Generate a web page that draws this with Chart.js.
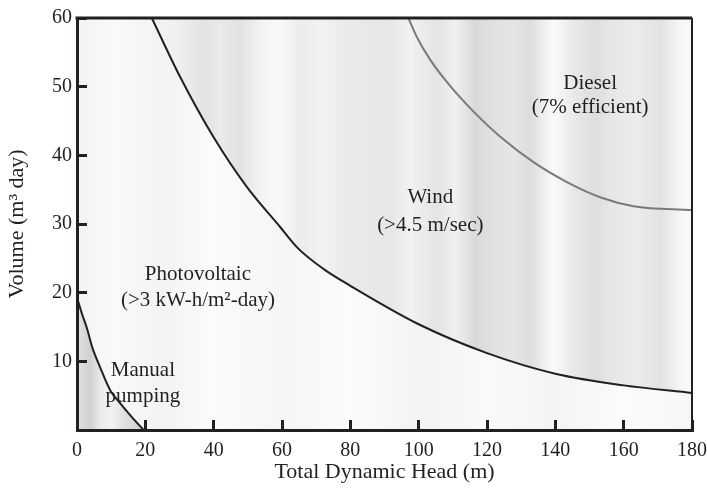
<!DOCTYPE html>
<html>
<head>
<meta charset="utf-8">
<script src="https://cdn.jsdelivr.net/npm/chart.js@4/dist/chart.umd.min.js"></script>
<style>
  html, body { margin: 0; padding: 0; background: #fff; }
  #wrap { width: 707px; height: 491px; }
</style>
</head>
<body>
<div id="wrap"><canvas id="pumpChart"></canvas></div>
<script>
// Boundary curves between pumping technologies (head in m, volume in m3/day)
const manualX = [0, 1.4, 2.8, 4.5, 6.7, 9.7, 12.6, 16, 19.5];
const manualY = [19.3, 17, 15, 12, 9.2, 5.8, 3.9, 1.9, 0];

const pvWindX = [21.9, 30.2, 39.9, 49.7, 59.4, 64.4, 72, 80, 100, 120, 140, 160, 180];
const pvWindY = [60, 51.4, 42.7, 35.4, 29.6, 26.6, 23.5, 21, 15.4, 11.2, 8.2, 6.5, 5.4];

const dieselX = [97, 99.5, 103.4, 109.2, 116, 123.9, 133.6, 143.4, 153.1, 162.9, 180];
const dieselY = [60, 57.2, 53.9, 50.1, 46.4, 42.7, 39, 36.1, 33.9, 32.6, 32];

const xTicks = [0, 20, 40, 60, 80, 100, 120, 140, 160, 180];
const yTicks = [10, 20, 30, 40, 50, 60];

// region names, placed at (head, volume)
const regionLabels = [
  { text: 'Photovoltaic', x: 35.4, y: 22.6 },
  { text: '(>3 kW-h/m\u00B2-day)', x: 35.4, y: 18.9 },
  { text: 'Wind', x: 103.4, y: 33.9 },
  { text: '(>4.5 m/sec)', x: 103.4, y: 29.8 },
  { text: 'Diesel', x: 150.2, y: 50.5 },
  { text: '(7% efficient)', x: 150.2, y: 47 },
  { text: 'Manual', x: 19.3, y: 8.7 },
  { text: 'pumping', x: 19.3, y: 4.85 }
];

const FONT = '"Liberation Serif", "DejaVu Serif", serif';
const INK = '#231f20';

// vertical shading bands: [head value, grey]
const bandsDark = [
  [0, '#f4f4f4'], [11.7, '#ebebeb'], [18.4, '#f6f6f6'], [28.7, '#f0f0f0'],
  [37.5, '#e3e3e3'], [41.9, '#eaeaea'], [47.7, '#e2e2e2'], [54, '#f3f3f3'],
  [58.9, '#fafafa'], [65.3, '#ececec'], [71.2, '#f2f2f2'], [80, '#eaeaea'],
  [91.7, '#e6e6e6'], [97.5, '#f2f2f2'], [105.4, '#e4e4e4'], [110.7, '#f0f0f0'],
  [116.5, '#d9d9d9'], [121, '#e0e0e0'], [128, '#e6e6e6'], [132.6, '#dddddd'],
  [139.4, '#fafafa'], [145.8, '#e8e8e8'], [151.7, '#dedede'], [156, '#e6e6e6'],
  [163.4, '#ececec'], [170.7, '#e2e2e2'], [176.6, '#f6f6f6'], [180, '#fafafa']
];
const bandsLight = [
  [0, '#f3f3f3'], [10, '#f9f9f9'], [25, '#f3f3f3'], [40, '#fbfbfb'],
  [60, '#f5f5f5'], [80, '#fbfbfb'], [100, '#f3f3f3'], [120, '#f9f9f9'],
  [140, '#f4f4f4'], [160, '#fbfbfb'], [180, '#f6f6f6']
];
const bandsManual = [
  [0, '#e4e4e4'], [2, '#d8d8d8'], [4, '#d0d0d0'], [7, '#ececec'],
  [10, '#f2f2f2'], [14, '#e0e0e0'], [18, '#d2d2d2'], [20, '#dcdcdc']
];

function points(xs, ys) {
  return xs.map((x, i) => ({ x: x, y: ys[i] }));
}

function bandGradient(chart, stops) {
  const area = chart.chartArea;
  const xs = chart.scales.x;
  const g = chart.ctx.createLinearGradient(area.left, 0, area.right, 0);
  stops.forEach(([v, c]) => {
    const f = (xs.getPixelForValue(v) - area.left) / area.width;
    g.addColorStop(Math.min(1, Math.max(0, f)), c);
  });
  return g;
}

function bands(stops) {
  return (context) => {
    const chart = context.chart;
    if (!chart.chartArea) return null;
    return bandGradient(chart, stops);
  };
}

// light banding behind everything (photovoltaic zone)
const backdrop = {
  id: 'backdrop',
  beforeDatasetsDraw(chart) {
    const { ctx, chartArea: a } = chart;
    ctx.save();
    ctx.fillStyle = bandGradient(chart, bandsLight);
    ctx.fillRect(a.left, a.top, a.width, a.height);
    ctx.restore();
  }
};

// frame on top and right, region names
const decorations = {
  id: 'decorations',
  afterDatasetsDraw(chart) {
    const { ctx, chartArea: a, scales } = chart;
    ctx.save();
    ctx.strokeStyle = INK;
    ctx.lineWidth = 3;
    ctx.beginPath();
    ctx.moveTo(a.left - 1.5, a.top);
    ctx.lineTo(a.right, a.top);
    ctx.stroke();
    ctx.lineWidth = 2;
    ctx.beginPath();
    ctx.moveTo(a.right, a.top);
    ctx.lineTo(a.right, a.bottom);
    ctx.stroke();

    ctx.fillStyle = INK;
    ctx.font = '21px ' + FONT;
    ctx.textAlign = 'center';
    ctx.textBaseline = 'middle';
    regionLabels.forEach(l => {
      ctx.fillText(l.text, scales.x.getPixelForValue(l.x), scales.y.getPixelForValue(l.y));
    });
    ctx.restore();
  }
};

new Chart(document.getElementById('pumpChart'), {
  type: 'line',
  data: {
    datasets: [
      {
        label: 'Manual',
        data: points(manualX, manualY),
        borderColor: INK,
        borderWidth: 2,
        backgroundColor: bands(bandsManual),
        fill: 'origin',
        cubicInterpolationMode: 'monotone',
        pointRadius: 0,
        order: 1
      },
      {
        label: 'Diesel',
        data: points(dieselX, dieselY),
        borderColor: '#7a7a7a',
        borderWidth: 2,
        backgroundColor: bands(bandsDark),
        fill: 'end',
        cubicInterpolationMode: 'monotone',
        pointRadius: 0,
        order: 2
      },
      {
        label: 'Wind',
        data: points(pvWindX, pvWindY),
        borderColor: INK,
        borderWidth: 2,
        backgroundColor: bands(bandsDark),
        fill: 'end',
        cubicInterpolationMode: 'monotone',
        pointRadius: 0,
        order: 3
      }
    ]
  },
  options: {
    responsive: true,
    maintainAspectRatio: false,
    animation: false,
    layout: { padding: { top: 18, right: 15, left: 0, bottom: 0 } },
    plugins: {
      legend: { display: false },
      tooltip: { enabled: false }
    },
    scales: {
      x: {
        type: 'linear',
        min: 0,
        max: 180,
        afterBuildTicks: (s) => { s.ticks = xTicks.map(v => ({ value: v })); },
        afterFit: (s) => { s.height = 61; s.paddingLeft = 0; s.paddingRight = 0; },
        ticks: { color: INK, font: { family: FONT, size: 20 }, padding: 19, maxRotation: 0 },
        grid: { z: 1, drawOnChartArea: false, drawTicks: true, tickLength: -10, color: INK, lineWidth: 3 },
        border: { z: 1, display: true, color: INK, width: 3 },
        title: {
          display: true,
          text: 'Total Dynamic Head (m)',
          color: INK,
          font: { family: FONT, size: 22 },
          padding: { top: 0, bottom: 6 }
        }
      },
      y: {
        type: 'linear',
        min: 0,
        max: 60,
        afterBuildTicks: (s) => { s.ticks = [0].concat(yTicks).map(v => ({ value: v })); },
        afterFit: (s) => { s.width = 77; s.paddingTop = 0; s.paddingBottom = 0; },
        ticks: {
          color: INK,
          font: { family: FONT, size: 20 },
          padding: 15,
          callback: (v) => (v === 0 ? '' : v)
        },
        grid: { z: 1, drawOnChartArea: false, drawTicks: true, tickLength: -10, color: INK, lineWidth: 3 },
        border: { z: 1, display: true, color: INK, width: 3 },
        title: {
          display: true,
          text: 'Volume (m\u00B3 day)',
          color: INK,
          font: { family: FONT, size: 22 },
          padding: { top: 4, bottom: 0 }
        }
      }
    }
  },
  plugins: [backdrop, decorations]
});
</script>
</body>
</html>
